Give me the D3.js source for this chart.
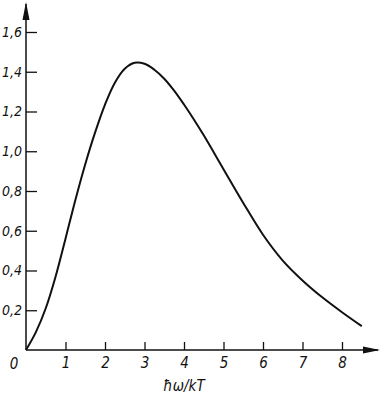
<!DOCTYPE html>
<html lang="en">
  <head>
    <meta charset="utf-8" />
    <script src="https://cdn.jsdelivr.net/npm/d3@7/dist/d3.min.js"></script>
    <style>
      body { margin: 0; background: #fff; }
      text {
        font-family: "DejaVu Sans Condensed", "DejaVu Sans", sans-serif;
        font-stretch: condensed;
        font-style: italic;
        fill: #111;
      }
    </style>
  </head>
  <body>
    <div id="container"></div>
    <script>
      // values
      const xVals = [0, 0.25, 0.5, 0.75, 1.0, 1.25, 1.5, 1.75, 2.0, 2.25, 2.5, 2.75, 3.0, 3.25, 3.5, 3.75, 4.0, 4.25, 4.5, 5.0, 5.5, 6.0, 6.5, 7.0, 7.5, 8.0, 8.5];
      const yVals = [0, 0.09, 0.21, 0.37, 0.56, 0.755, 0.935, 1.095, 1.235, 1.345, 1.415, 1.445, 1.44, 1.41, 1.365, 1.305, 1.235, 1.16, 1.08, 0.91, 0.74, 0.58, 0.45, 0.35, 0.265, 0.19, 0.12];
      const xTicks = [1, 2, 3, 4, 5, 6, 7, 8];
      const yTicks = [0.2, 0.4, 0.6, 0.8, 1.0, 1.2, 1.4, 1.6];
      const xLabel = "ħω/kT";

      const width = 381, height = 394;
      const svg = d3.select("#container").append("svg").attr("width", width).attr("height", height);

      const x = d3.scaleLinear().domain([0, 8]).range([26, 342]);
      const y = d3.scaleLinear().domain([0, 1.6]).range([350, 32]);

      // axis lines with arrows
      svg.append("line").attr("x1", x(0)).attr("y1", y(0)).attr("x2", x(0)).attr("y2", 4)
        .attr("stroke", "#111").attr("stroke-width", 1.5);
      svg.append("path").attr("d", `M${x(0)},2 L${x(0) - 3.5},20 L${x(0) + 3.5},20 Z`).attr("fill", "#111");
      svg.append("line").attr("x1", x(0)).attr("y1", y(0)).attr("x2", 378).attr("y2", y(0))
        .attr("stroke", "#111").attr("stroke-width", 1.5);
      svg.append("path").attr("d", `M380,${y(0)} L363,${y(0) - 3.5} L363,${y(0) + 3.5} Z`).attr("fill", "#111");

      const fmt = (d) => d3.format(".1f")(d).replace(".", ",");

      const yAxis = svg.append("g").attr("transform", `translate(${x(0)},0)`)
        .call(d3.axisLeft(y).tickValues(yTicks).tickSize(-11).tickPadding(4).tickFormat(fmt));
      yAxis.select(".domain").remove();
      yAxis.selectAll("line").attr("stroke", "#111").attr("stroke-width", 1.3);
      yAxis.selectAll("text").attr("font-size", 14).attr("font-family", null).attr("fill", "#111");

      const xAxis = svg.append("g").attr("transform", `translate(0,${y(0)})`)
        .call(d3.axisBottom(x).tickValues(xTicks).tickSize(-8).tickPadding(7).tickFormat(d3.format("d")));
      xAxis.select(".domain").remove();
      xAxis.selectAll("line").attr("stroke", "#111").attr("stroke-width", 1.3);
      xAxis.selectAll("text").attr("font-size", 15).attr("font-family", null).attr("fill", "#111");

      svg.append("text").attr("x", 14).attr("y", 369).attr("text-anchor", "middle")
        .attr("font-size", 15).text("0");

      svg.append("text").attr("x", 184).attr("y", 391).attr("text-anchor", "middle")
        .attr("font-size", 15).text(xLabel);

      const pts = xVals.map((d, i) => [d, yVals[i]]);
      const line = d3.line().x((d) => x(d[0])).y((d) => y(d[1])).curve(d3.curveCatmullRom.alpha(0.5));
      svg.append("path").datum(pts).attr("d", line).attr("fill", "none")
        .attr("stroke", "#111").attr("stroke-width", 2);
    </script>
  </body>
</html>
